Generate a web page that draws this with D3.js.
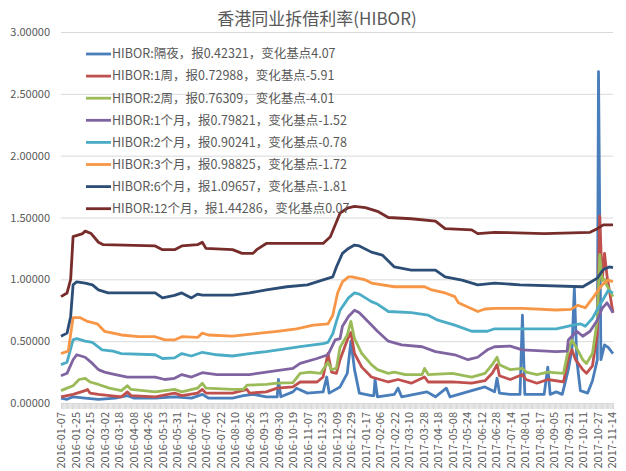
<!DOCTYPE html>
<html>
<head>
<meta charset="utf-8">
<script src="https://cdn.jsdelivr.net/npm/d3@7/dist/d3.min.js"></script>
<style>
  body { margin: 0; background: #fff; }
  text { font-family: "Liberation Sans Narrow", "Noto Sans CJK SC", sans-serif; fill: #595959; }
</style>
</head>
<body>
<div id="graf"></div>
<script>
// Etiquetas del eje X (cada 12 dias habiles)
const tickLabels = [
  "2016-01-07", "2016-01-25", "2016-02-15", "2016-03-02", "2016-03-18", "2016-04-08",
  "2016-04-26", "2016-05-13", "2016-05-31", "2016-06-17", "2016-07-06", "2016-07-22",
  "2016-08-10", "2016-08-26", "2016-09-13", "2016-09-30", "2016-10-19", "2016-11-07",
  "2016-11-23", "2016-12-09", "2016-12-29", "2017-01-17", "2017-02-06", "2017-02-22",
  "2017-03-10", "2017-03-28", "2017-04-18", "2017-05-08", "2017-05-24", "2017-06-12",
  "2017-06-28", "2017-07-14", "2017-08-01", "2017-08-17", "2017-09-05", "2017-09-21",
  "2017-10-11", "2017-10-27", "2017-11-14"
]
const tickStep = 12
const lastDay = 457

const yTicks = [0, 0.5, 1, 1.5, 2, 2.5, 3]

// Series: [indice de dia habil, tasa]
const overnight = [[0,0.04],[5,0.03],[10,0.05],[20,0.04],[31,0.03],[45,0.04],[55,0.06],[60,0.04],[78,0.04],[94,0.05],[108,0.04],[117,0.07],[122,0.04],[142,0.04],[151,0.06],[159,0.07],[170,0.05],[179,0.05],[180,0.19],[182,0.05],[192,0.09],[195,0.12],[204,0.08],[217,0.09],[220,0.21],[222,0.08],[231,0.13],[237,0.24],[240,0.5],[243,0.27],[247,0.08],[257,0.06],[259,0.06],[260,0.19],[262,0.05],[276,0.07],[279,0.12],[282,0.05],[303,0.09],[310,0.05],[319,0.12],[322,0.05],[340,0.1],[351,0.13],[359,0.09],[361,0.2],[363,0.08],[372,0.07],[380,0.07],[382,0.71],[384,0.07],[400,0.07],[403,0.29],[405,0.07],[410,0.09],[415,0.07],[420,0.27],[423,0.43],[425,0.93],[427,0.35],[430,0.1],[436,0.08],[440,0.18],[444,0.35],[445,2.68],[447,0.35],[450,0.47],[453,0.45],[457,0.4]]
const week1 = [[0,0.05],[10,0.07],[20,0.1],[22,0.11],[24,0.08],[31,0.07],[50,0.05],[55,0.09],[58,0.06],[78,0.05],[94,0.08],[100,0.06],[113,0.08],[117,0.11],[120,0.08],[142,0.08],[154,0.11],[156,0.08],[170,0.09],[179,0.12],[192,0.13],[198,0.17],[212,0.17],[217,0.21],[221,0.4],[224,0.25],[228,0.24],[231,0.35],[237,0.51],[240,0.57],[243,0.4],[249,0.29],[257,0.21],[271,0.17],[279,0.19],[290,0.16],[301,0.21],[304,0.17],[324,0.17],[340,0.16],[351,0.18],[357,0.24],[361,0.31],[363,0.22],[372,0.19],[382,0.23],[385,0.19],[394,0.16],[403,0.19],[416,0.17],[420,0.36],[423,0.43],[426,0.35],[432,0.27],[435,0.24],[440,0.3],[444,0.56],[446,1.51],[448,0.99],[450,1.21],[452,1.03],[457,0.73]]
const week2 = [[0,0.1],[5,0.12],[10,0.14],[15,0.19],[20,0.2],[24,0.17],[31,0.15],[40,0.12],[50,0.1],[55,0.14],[58,0.11],[78,0.09],[94,0.11],[100,0.09],[113,0.12],[117,0.16],[120,0.12],[142,0.11],[151,0.11],[154,0.145],[170,0.15],[179,0.16],[192,0.165],[198,0.24],[206,0.25],[215,0.24],[221,0.33],[224,0.27],[228,0.28],[231,0.45],[237,0.55],[240,0.66],[243,0.52],[249,0.4],[257,0.31],[262,0.27],[271,0.24],[276,0.25],[285,0.23],[299,0.23],[301,0.28],[304,0.23],[324,0.24],[340,0.21],[351,0.24],[357,0.31],[361,0.37],[363,0.31],[372,0.27],[382,0.28],[385,0.25],[394,0.23],[403,0.25],[416,0.24],[420,0.43],[423,0.51],[426,0.46],[432,0.35],[435,0.32],[440,0.4],[444,0.67],[446,1.2],[448,0.99],[450,1.0],[452,0.95],[457,0.86]]
const month1 = [[0,0.22],[5,0.24],[10,0.35],[13,0.39],[20,0.37],[26,0.32],[31,0.27],[36,0.25],[45,0.23],[55,0.21],[78,0.21],[86,0.19],[94,0.2],[100,0.23],[108,0.21],[117,0.245],[129,0.23],[156,0.23],[170,0.25],[192,0.28],[198,0.32],[212,0.36],[221,0.39],[227,0.51],[231,0.52],[233,0.62],[238,0.7],[243,0.75],[247,0.73],[257,0.63],[262,0.58],[271,0.5],[282,0.47],[299,0.455],[310,0.415],[326,0.39],[337,0.35],[345,0.37],[353,0.43],[359,0.455],[372,0.46],[382,0.43],[410,0.415],[419,0.42],[420,0.51],[427,0.58],[432,0.54],[438,0.58],[444,0.67],[448,0.765],[452,0.81],[454,0.78],[457,0.73]]
const month2 = [[0,0.31],[5,0.33],[10,0.51],[13,0.52],[20,0.5],[26,0.49],[34,0.43],[43,0.42],[50,0.4],[78,0.39],[84,0.36],[94,0.365],[100,0.4],[108,0.38],[117,0.41],[129,0.39],[142,0.38],[156,0.4],[170,0.415],[187,0.44],[198,0.455],[217,0.48],[221,0.49],[225,0.56],[228,0.66],[231,0.75],[238,0.85],[243,0.89],[247,0.88],[257,0.82],[262,0.8],[271,0.74],[290,0.73],[304,0.71],[312,0.67],[326,0.63],[340,0.58],[353,0.58],[359,0.6],[372,0.6],[382,0.6],[410,0.6],[424,0.63],[430,0.64],[434,0.62],[440,0.685],[446,0.79],[453,0.91],[457,0.89]]
const month3 = [[0,0.4],[6,0.42],[10,0.69],[16,0.69],[22,0.66],[30,0.64],[36,0.58],[50,0.55],[64,0.536],[78,0.536],[86,0.51],[94,0.51],[100,0.536],[113,0.53],[117,0.565],[122,0.55],[142,0.54],[165,0.565],[179,0.58],[195,0.6],[209,0.63],[221,0.64],[225,0.71],[229,0.89],[233,0.98],[238,1.02],[241,1.02],[252,0.995],[257,0.97],[276,0.94],[301,0.94],[307,0.914],[318,0.89],[326,0.86],[329,0.81],[345,0.74],[351,0.76],[359,0.765],[382,0.765],[410,0.752],[422,0.757],[428,0.79],[434,0.77],[440,0.846],[448,0.955],[453,0.994],[457,0.98]]
const month6 = [[0,0.54],[5,0.565],[8,0.7],[10,0.955],[13,0.98],[20,0.97],[26,0.955],[31,0.915],[39,0.89],[78,0.89],[84,0.85],[94,0.87],[100,0.89],[108,0.85],[113,0.88],[117,0.873],[142,0.873],[156,0.89],[170,0.914],[187,0.94],[204,0.955],[217,0.995],[225,1.02],[228,1.1],[233,1.21],[238,1.25],[243,1.277],[247,1.27],[257,1.22],[266,1.196],[276,1.1],[290,1.075],[310,1.075],[318,1.02],[332,0.994],[345,0.955],[359,0.97],[380,0.955],[432,0.94],[438,0.975],[444,1.01],[449,1.08],[454,1.1],[457,1.095]]
const month12 = [[0,0.86],[5,0.89],[8,1.0],[10,1.345],[18,1.37],[20,1.39],[25,1.37],[31,1.3],[35,1.28],[78,1.27],[84,1.24],[94,1.24],[100,1.27],[113,1.28],[117,1.3],[120,1.25],[142,1.24],[150,1.21],[159,1.21],[162,1.24],[170,1.29],[184,1.29],[217,1.29],[223,1.345],[231,1.535],[237,1.575],[243,1.59],[252,1.58],[262,1.55],[271,1.5],[290,1.49],[310,1.47],[318,1.41],[340,1.4],[345,1.37],[359,1.38],[400,1.37],[438,1.38],[444,1.41],[449,1.44],[457,1.44]]

const seriesNames = [
  "HIBOR:隔夜，报0.42321，变化基点4.07",
  "HIBOR:1周，报0.72988，变化基点-5.91",
  "HIBOR:2周，报0.76309，变化基点-4.01",
  "HIBOR:1个月，报0.79821，变化基点-1.52",
  "HIBOR:2个月，报0.90241，变化基点-0.78",
  "HIBOR:3个月，报0.98825，变化基点-1.72",
  "HIBOR:6个月，报1.09657，变化基点-1.81",
  "HIBOR:12个月，报1.44286，变化基点0.07"
]
const seriesValues = [overnight, week1, week2, month1, month2, month3, month6, month12]
const colores = ["#4a7ebb", "#c0504d", "#9bbb59", "#8064a2", "#4bacc6", "#f79646", "#2c4d75", "#772c2a"]

const draw = () => {
  const anchoTotal = 626
  const altoTotal = 471
  const margins = { top: 32, right: 13, bottom: 68, left: 61 }
  const ancho = anchoTotal - margins.left - margins.right
  const alto = altoTotal - margins.top - margins.bottom

  const svg = d3.select("#graf")
    .append("svg")
    .attr("width", anchoTotal)
    .attr("height", altoTotal)

  const g = svg.append("g")
    .attr("transform", `translate(${margins.left}, ${margins.top})`)

  // Escaladores
  const x = d3.scaleLinear().domain([0, lastDay]).range([0, ancho])
  const y = d3.scaleLinear().domain([0, 3]).range([alto, 0])

  // Eje Y con lineas de cuadricula
  const yAxisGroup = g.append("g")
    .call(d3.axisLeft(y)
      .tickValues(yTicks)
      .tickSize(-ancho)
      .tickPadding(11)
      .tickFormat(d3.format(".5f")))
  yAxisGroup.select(".domain").remove()
  yAxisGroup.selectAll("line").attr("stroke", "#d9d9d9")
  yAxisGroup.selectAll("text").style("font-size", "11px")

  // Eje X: marca por dia, etiqueta cada 12
  const xAxisGroup = g.append("g")
    .attr("transform", `translate(0, ${alto})`)
    .call(d3.axisBottom(x)
      .tickValues(d3.range(0, lastDay + 1))
      .tickSize(6)
      .tickFormat((d) => d % tickStep === 0 ? tickLabels[d / tickStep] : ""))
  xAxisGroup.select(".domain").attr("stroke", "#d9d9d9")
  xAxisGroup.selectAll("line").attr("stroke", "#d9d9d9")
  xAxisGroup.selectAll("text")
    .style("font-size", "11px")
    .style("text-anchor", "end")
    .attr("transform", "rotate(-90)")
    .attr("x", -9)
    .attr("y", 0)
    .attr("dy", "0.35em")

  // Lineas
  const line = d3.line()
    .x((d) => x(d[0]))
    .y((d) => y(d[1]))

  g.selectAll(".serie")
    .data(seriesValues)
    .join("path")
    .attr("class", "serie")
    .attr("fill", "none")
    .attr("stroke", (d, i) => colores[i])
    .attr("stroke-width", 2.8)
    .attr("stroke-linejoin", "round")
    .attr("d", line)

  // Leyenda
  const legend = svg.append("g")
    .selectAll("g")
    .data(seriesNames)
    .join("g")
    .attr("transform", (d, i) => `translate(86, ${54 + i * 22.1})`)

  legend.append("line")
    .attr("x1", 0)
    .attr("x2", 25)
    .attr("stroke", (d, i) => colores[i])
    .attr("stroke-width", 2.8)

  legend.append("text")
    .attr("x", 26)
    .attr("dy", "0.35em")
    .style("font-size", "12.5px")
    .text((d) => d)

  // Titulo
  svg.append("text")
    .attr("x", 317)
    .attr("y", 25)
    .attr("text-anchor", "middle")
    .style("font-size", "17px")
    .text("香港同业拆借利率(HIBOR)")
}

draw()
</script>
</body>
</html>
